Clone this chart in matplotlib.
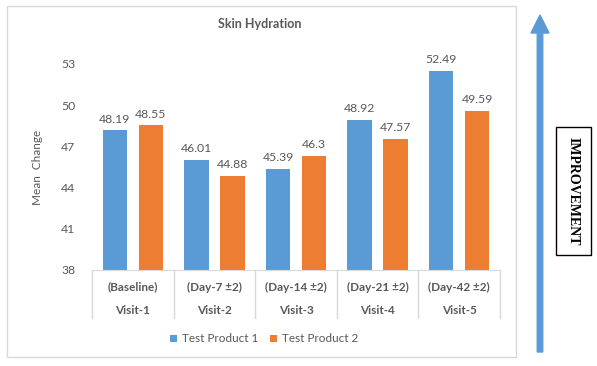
import matplotlib
matplotlib.use("Agg")
import matplotlib.pyplot as plt
import matplotlib.patches as mpatches
from matplotlib.transforms import IdentityTransform, blended_transform_factory
import numpy as np

plt.rcParams['font.family'] = ['Lato', 'DejaVu Sans']

visits = ["Visit-1", "Visit-2", "Visit-3", "Visit-4", "Visit-5"]
days = ["(Baseline)", "(Day-7 \u00b12)", "(Day-14 \u00b12)", "(Day-21 \u00b12)", "(Day-42 \u00b12)"]
product1 = [48.19, 46.01, 45.39, 48.92, 52.49]
product2 = [48.55, 44.88, 46.3, 47.57, 49.59]
label1 = ["48.19", "46.01", "45.39", "48.92", "52.49"]
label2 = ["48.55", "44.88", "46.3", "47.57", "49.59"]
yticks = [38, 41, 44, 47, 50, 53]
series_names = ["Test Product 1", "Test Product 2"]

BLUE = "#5B9BD5"
ORANGE = "#ED7D31"
TXT = "#595959"
GRID = "#D9D9D9"

W, H = 597, 366
fig = plt.figure(figsize=(W / 100, H / 100), dpi=100)

# outer chart border
fig.add_artist(mpatches.Rectangle((7 / W, 1 - 357 / H), (516 - 7) / W, (357 - 6) / H,
                                  transform=fig.transFigure, fill=False, edgecolor=GRID, lw=1))

ax = fig.add_axes([92 / W, 1 - 270 / H, (500 - 92) / W, (270 - 64) / H])
x = np.arange(len(visits))
bw = 0.30
off = 0.22
b1 = ax.bar(x - off, [v - 38 for v in product1], bw, bottom=38, color=BLUE, label=series_names[0])
b2 = ax.bar(x + off, [v - 38 for v in product2], bw, bottom=38, color=ORANGE, label=series_names[1])
for xi, v, t in zip(x - off, product1, label1):
    ax.annotate(t, (xi, v), xytext=(0, 4), textcoords="offset points", ha="center", va="bottom",
                fontsize=8.8, color=TXT)
for xi, v, t in zip(x + off, product2, label2):
    ax.annotate(t, (xi, v), xytext=(0, 4), textcoords="offset points", ha="center", va="bottom",
                fontsize=8.8, color=TXT)

ax.set_xlim(-0.5, len(visits) - 0.5)
ax.set_ylim(38, 53)
ax.set_yticks(yticks)
ax.set_yticklabels([str(t) for t in yticks], fontsize=8.8, color=TXT)
ax.tick_params(axis="y", length=0, pad=12)
ax.set_xticks([])
for s in ["top", "right", "left"]:
    ax.spines[s].set_visible(False)
ax.spines["bottom"].set_color(GRID)
ax.set_ylabel("Mean  Change", fontsize=8.5, color=TXT, labelpad=13)

# multi-level category axis
tr = blended_transform_factory(ax.transData, ax.transAxes)
axh = 270 - 64
for b in np.arange(-0.5, len(visits), 1.0):
    ax.plot([b, b], [0, -48 / axh], transform=tr, color=GRID, lw=1, clip_on=False)
for xi, d, v in zip(x, days, visits):
    ax.text(xi, -17 / axh, d, transform=tr, ha="center", va="center", fontsize=8.5,
            color=TXT, fontweight="bold")
    ax.text(xi, -40 / axh, v, transform=tr, ha="center", va="center", fontsize=8.5,
            color=TXT, fontweight="bold")

fig.text(260 / W, 1 - 24 / H, "Skin Hydration", ha="center", va="center", fontsize=9,
         fontweight="bold", color=TXT)

fig.legend(handles=[b1, b2], labels=series_names, loc="center", bbox_to_anchor=(264 / W, 1 - 339 / H),
           ncol=2, frameon=False, fontsize=8.5, labelcolor=TXT, handlelength=0.6, handleheight=0.6,
           handletextpad=0.4, columnspacing=1.0)

# improvement arrow
arrow = mpatches.FancyArrow(540, H - 352, 0, 337, width=5.5, head_width=18, head_length=18,
                            length_includes_head=True, color=BLUE, transform=IdentityTransform())
fig.add_artist(arrow)

fig.add_artist(mpatches.Rectangle((556 / W, 1 - 255 / H), 35 / W, 128 / H, transform=fig.transFigure,
                                  fill=False, edgecolor="black", lw=1))
fig.text(573.5 / W, 1 - 191 / H, "IMPROVEMENT", rotation=270, ha="center", va="center",
         fontsize=10, fontweight="bold", family=["Liberation Serif"], color="black")

fig.savefig("out.png", dpi=100)
